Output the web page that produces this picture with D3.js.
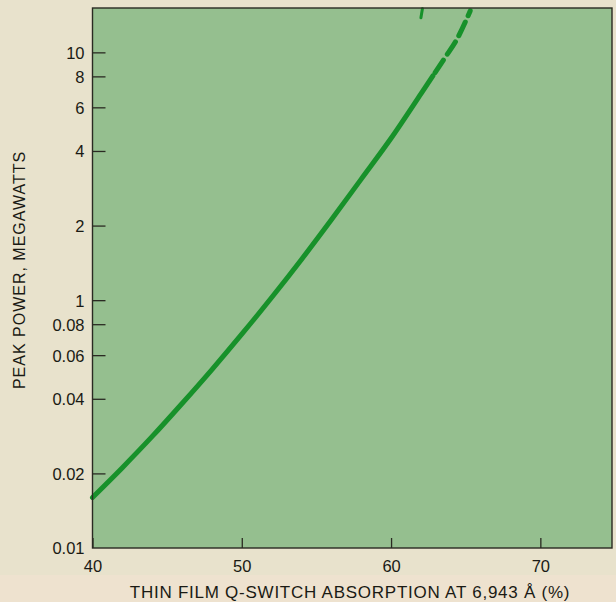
<!DOCTYPE html>
<html>
<head>
<meta charset="utf-8">
<script src="https://cdn.jsdelivr.net/npm/d3@7"></script>
<style>
  html, body { margin: 0; padding: 0; background: #e8e2cc; }
  svg { display: block; }
  text { font-family: "Liberation Sans", Arial, sans-serif; fill: #1a1a14; }
</style>
</head>
<body>
<svg id="chart" width="616" height="602"></svg>
<script>
// ---- data ----
const solidX = [40, 42, 44, 46, 48, 50, 52, 54, 56, 58, 60, 62, 62.8];
const solidY = [0.16, 0.211, 0.282, 0.383, 0.525, 0.729, 1.025, 1.46, 2.11, 3.08, 4.5, 6.8, 8.04];
const dashX = [62.8, 63.6, 64.4, 65.3];
const dashY = [8.04, 9.5, 11.26, 14.7];
const stubX = [62.1, 62.0];
const stubY = [15.0, 13.8];
const xTicks = [40, 50, 60, 70];
const yTickValues = [0.1, 0.2, 0.4, 0.6, 0.8, 1, 2, 4, 6, 8, 10];
const yTickLabels = ["0.01", "0.02", "0.04", "0.06", "0.08", "1", "2", "4", "6", "8", "10"];
const xTitle = "THIN FILM Q-SWITCH ABSORPTION AT 6,943 Å (%)";
const yTitle = "PEAK POWER, MEGAWATTS";

// ---- layout ----
const pLeft = 92.5, pRight = 612, pTop = 8, pBottom = 548;
const svg = d3.select("#chart");

const x = d3.scaleLinear().domain([40, 74.8]).range([pLeft, pRight]);
const y = d3.scaleLog().domain([0.1, 15.1]).range([pBottom, pTop]);

// bottom pinkish band
svg.append("rect").attr("x", 0).attr("y", 575).attr("width", 616).attr("height", 27).attr("fill", "#eee2cf");

// plot area
svg.append("rect")
  .attr("x", pLeft).attr("y", pTop)
  .attr("width", pRight - pLeft).attr("height", pBottom - pTop)
  .attr("fill", "#95bf8f");

const zip = (xs, ys) => xs.map((v, i) => [v, ys[i]]);
const line = d3.line().x(d => x(d[0])).y(d => y(d[1])).curve(d3.curveMonotoneX);

svg.append("path").datum(zip(solidX, solidY))
  .attr("d", line).attr("fill", "none")
  .attr("stroke", "#17912a").attr("stroke-width", 5).attr("stroke-linecap", "round");

svg.append("path").datum(zip(dashX, dashY))
  .attr("d", line).attr("fill", "none")
  .attr("stroke", "#17912a").attr("stroke-width", 5)
  .attr("stroke-dasharray", "15,7").attr("stroke-dashoffset", -4).attr("stroke-linecap", "round");

svg.append("path").datum(zip(stubX, stubY))
  .attr("d", d3.line().x(d => x(d[0])).y(d => y(d[1])))
  .attr("fill", "none").attr("stroke", "#17912a").attr("stroke-width", 3).attr("stroke-linecap", "round");

// frame
svg.append("rect")
  .attr("x", pLeft).attr("y", pTop)
  .attr("width", pRight - pLeft).attr("height", pBottom - pTop)
  .attr("fill", "none").attr("stroke", "#2a2a22").attr("stroke-width", 1.4);

// axes
const yAxis = d3.axisLeft(y).tickValues(yTickValues)
  .tickSizeInner(-13).tickSizeOuter(0)
  .tickFormat((d, i) => yTickLabels[i]);
const gy = svg.append("g").attr("transform", `translate(${pLeft},0)`).call(yAxis);
gy.select(".domain").remove();
gy.selectAll(".tick line").attr("stroke", "#2a2a22").attr("stroke-width", 1.3);
gy.selectAll(".tick").filter(d => d === 0.1).select("line").remove();
gy.selectAll(".tick text").attr("x", -8).attr("dy", "0.36em")
  .style("font-size", "16.5px").style("font-family", "Liberation Sans, Arial, sans-serif").attr("fill", "#1a1a14");

const xAxis = d3.axisBottom(x).tickValues(xTicks)
  .tickSizeInner(-10).tickSizeOuter(0).tickFormat(d3.format("d"));
const gx = svg.append("g").attr("transform", `translate(0,${pBottom})`).call(xAxis);
gx.select(".domain").remove();
gx.selectAll(".tick line").attr("stroke", "#2a2a22").attr("stroke-width", 1.3);
gx.selectAll(".tick text").attr("y", 12).attr("dy", "0.71em")
  .style("font-size", "16.5px").style("font-family", "Liberation Sans, Arial, sans-serif").attr("fill", "#1a1a14");

// titles
svg.append("text")
  .attr("x", 350).attr("y", 598)
  .attr("text-anchor", "middle")
  .style("font-size", "17px").style("letter-spacing", "0.75px")
  .text(xTitle);

svg.append("text")
  .attr("transform", "translate(25,270) rotate(-90)")
  .attr("text-anchor", "middle")
  .style("font-size", "16px").style("letter-spacing", "1px")
  .text(yTitle);
</script>
</body>
</html>
